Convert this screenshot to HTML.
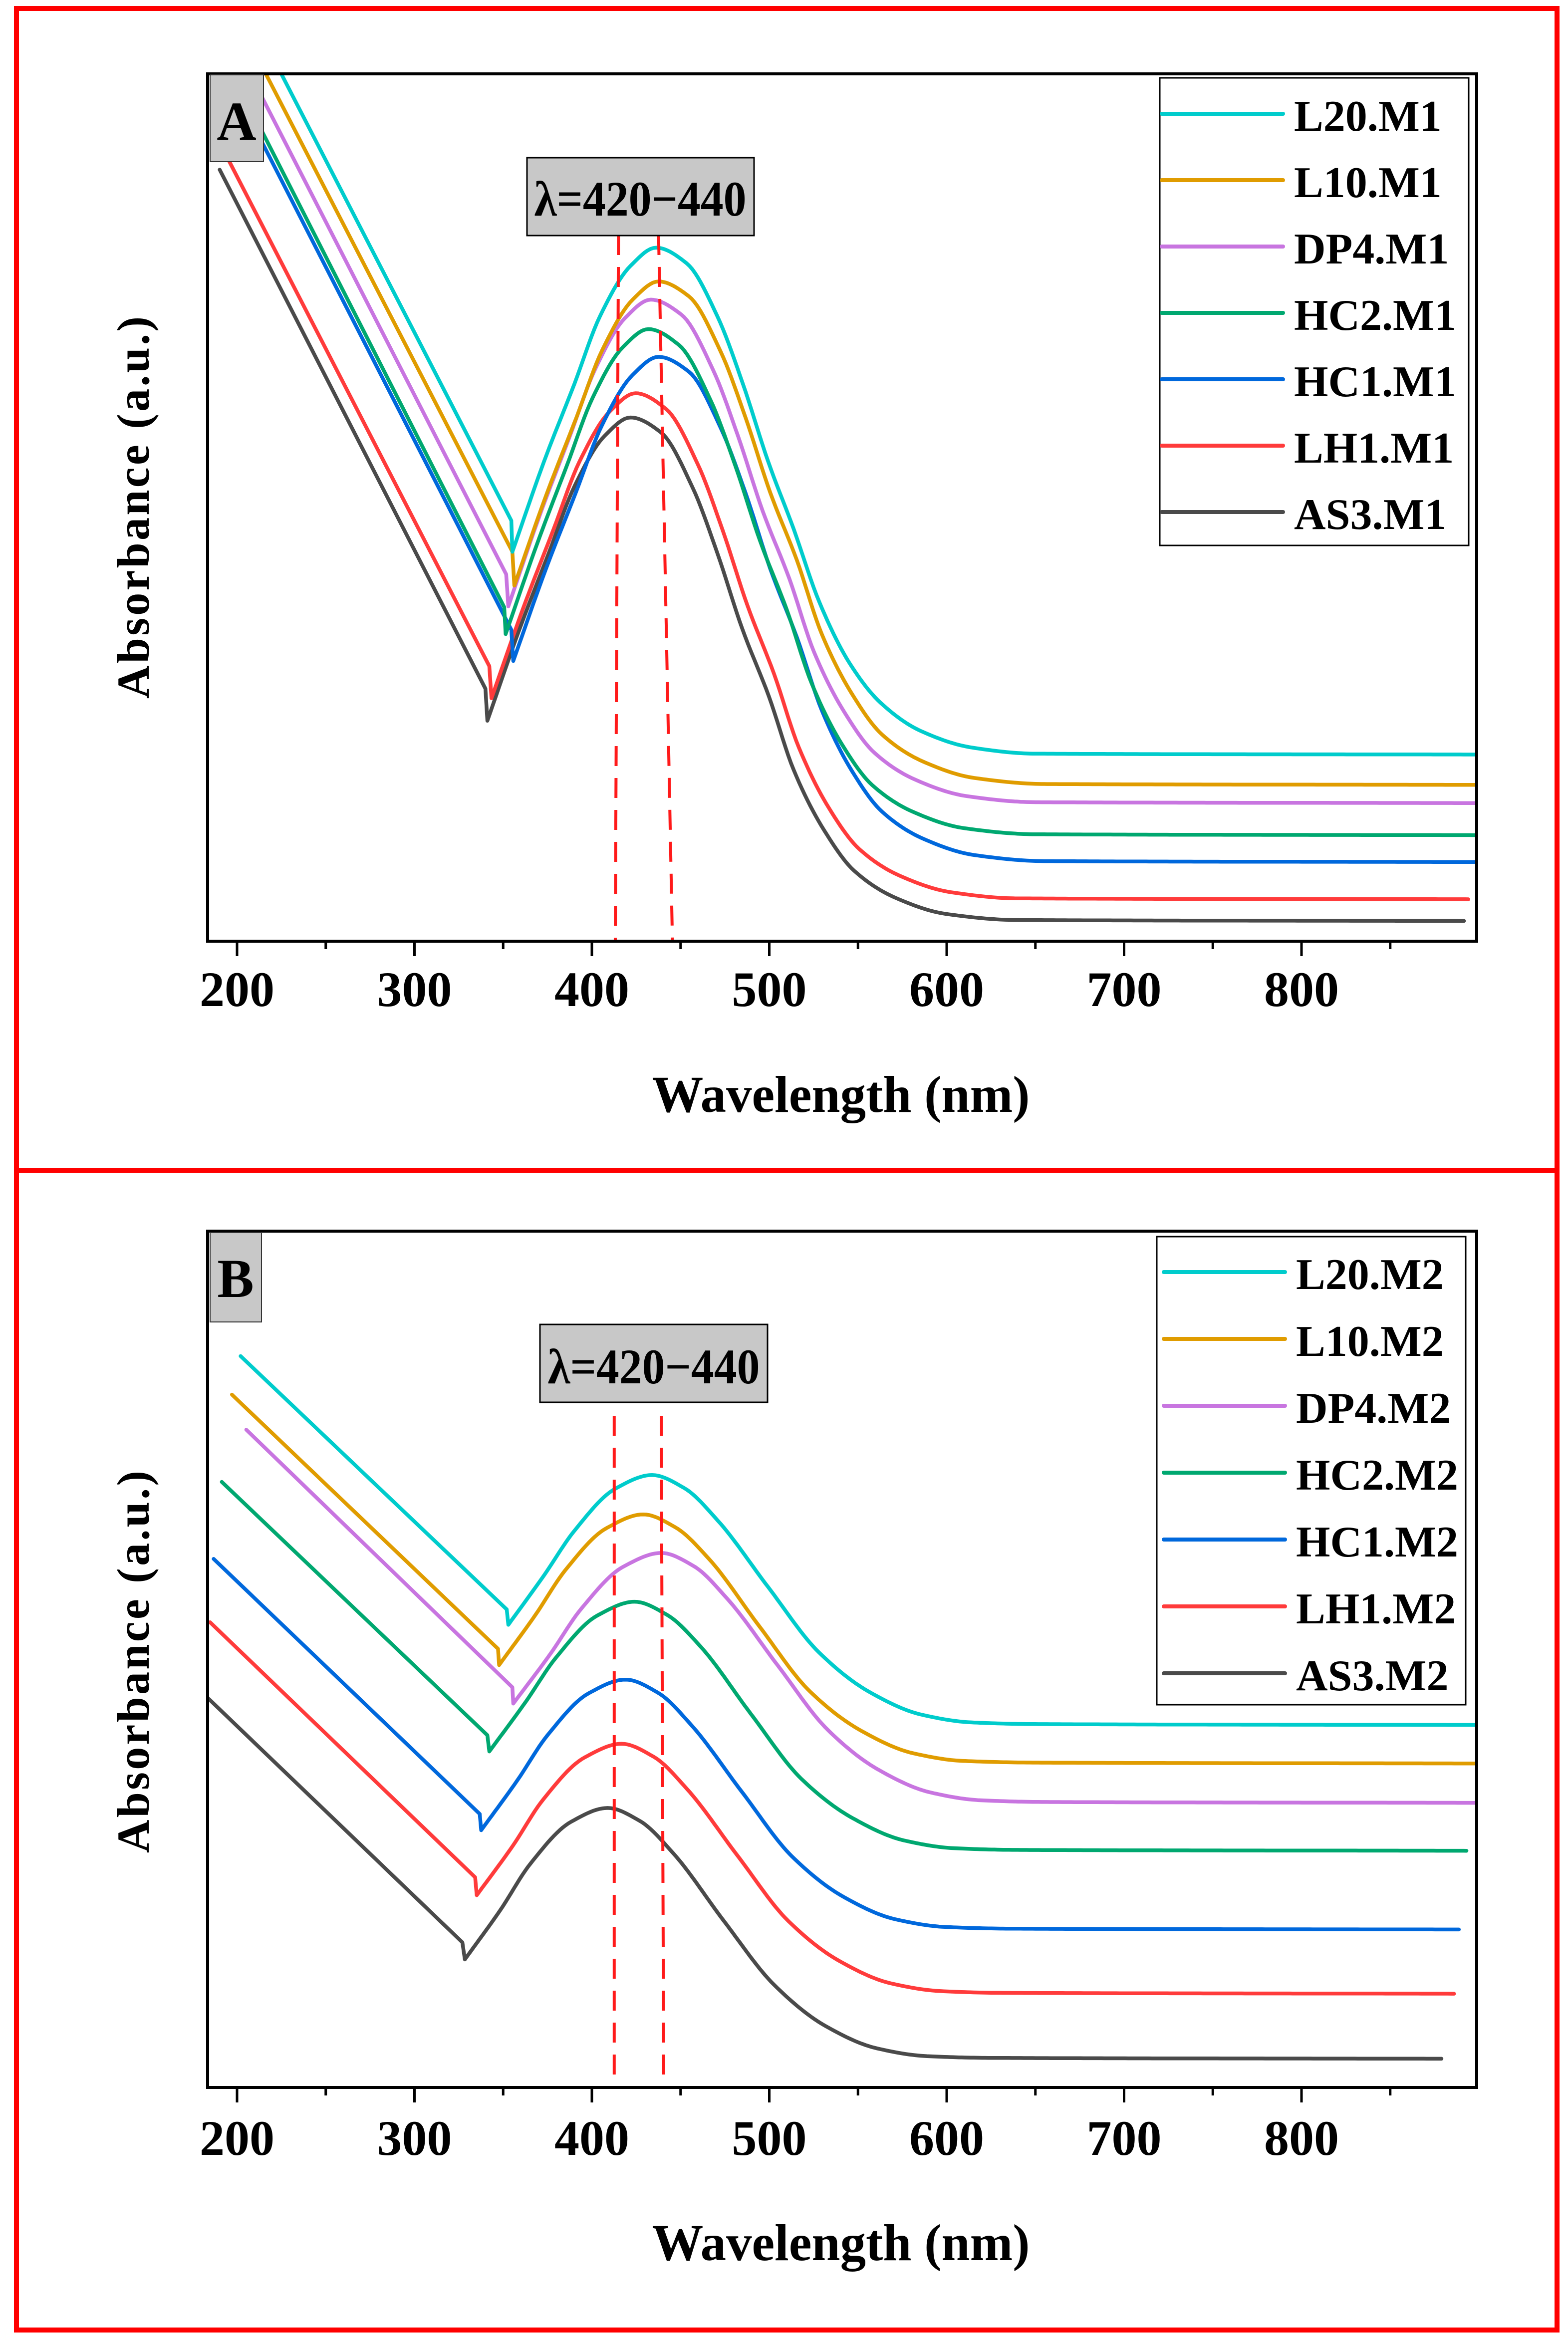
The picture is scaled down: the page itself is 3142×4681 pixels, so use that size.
<!DOCTYPE html>
<html><head><meta charset="utf-8"><style>
html,body{margin:0;padding:0;background:#fff;}
svg{display:block;}
text{font-family:"Liberation Serif",serif;font-weight:bold;fill:#000;}
</style></head><body>
<svg id="fig" width="3142" height="4681" viewBox="0 0 3142 4681" xmlns="http://www.w3.org/2000/svg">
<defs>
<clipPath id="clipA"><rect x="416" y="148" width="2543" height="1738"/></clipPath>
<clipPath id="clipB"><rect x="416" y="2467" width="2543" height="1716"/></clipPath>
</defs>
<rect x="0" y="0" width="3142" height="4681" fill="#fff"/>
<rect x="33" y="17" width="3087" height="2328" fill="none" stroke="#ff0000" stroke-width="10"/>
<rect x="33" y="2345" width="3087" height="2324" fill="none" stroke="#ff0000" stroke-width="10"/>

<g id="panelA">
<g id="curvesA" clip-path="url(#clipA)"></g>
<g id="dashA"></g>
<rect x="416" y="148" width="2543" height="1738" fill="none" stroke="#000" stroke-width="6"/>
<g id="ticksA"></g>
<text x="1685" y="2228" font-size="104" text-anchor="middle" textLength="757" lengthAdjust="spacingAndGlyphs">Wavelength (nm)</text>
<text transform="translate(298,1017) rotate(-90)" x="0" y="0" font-size="92" text-anchor="middle" textLength="766" lengthAdjust="spacing">Absorbance (a.u.)</text>
<rect x="421" y="150" width="107" height="174" fill="#c8c8c8" stroke="#333" stroke-width="2"/>
<text x="474" y="280" font-size="110" text-anchor="middle">A</text>
<rect x="1056" y="316" width="455" height="156" fill="#c8c8c8" stroke="#000" stroke-width="3"/>
<text x="1283" y="432" font-size="100" text-anchor="middle" textLength="425" lengthAdjust="spacingAndGlyphs">λ=420−440</text>
<rect x="2324" y="156" width="619" height="937" fill="#fff" stroke="#000" stroke-width="3"/>
<g id="legendA"></g>
</g>

<g id="panelB">
<g id="curvesB" clip-path="url(#clipB)"></g>
<g id="dashB"></g>
<rect x="416" y="2467" width="2543" height="1716" fill="none" stroke="#000" stroke-width="6"/>
<g id="ticksB"></g>
<text x="1685" y="4529" font-size="104" text-anchor="middle" textLength="757" lengthAdjust="spacingAndGlyphs">Wavelength (nm)</text>
<text transform="translate(298,3330) rotate(-90)" x="0" y="0" font-size="92" text-anchor="middle" textLength="766" lengthAdjust="spacing">Absorbance (a.u.)</text>
<rect x="421" y="2470" width="103" height="179" fill="#c8c8c8" stroke="#333" stroke-width="2"/>
<text x="472" y="2599" font-size="110" text-anchor="middle">B</text>
<rect x="1082" y="2654" width="456" height="156" fill="#c8c8c8" stroke="#000" stroke-width="3"/>
<text x="1310" y="2772" font-size="100" text-anchor="middle" textLength="425" lengthAdjust="spacingAndGlyphs">λ=420−440</text>
<rect x="2318" y="2478" width="619" height="938" fill="#fff" stroke="#000" stroke-width="3"/>
<g id="legendB"></g>
</g>
</svg>
<script>
// ---- data ----
const xTicks = [200, 300, 400, 500, 600, 700, 800];
const xMinorTicks = [250, 350, 450, 550, 650, 750, 850];
const xTickLabels = ["200", "300", "400", "500", "600", "700", "800"];

const namesA = ["L20.M1", "L10.M1", "DP4.M1", "HC2.M1", "HC1.M1", "LH1.M1", "AS3.M1"];
const namesB = ["L20.M2", "L10.M2", "DP4.M2", "HC2.M2", "HC1.M2", "LH1.M2", "AS3.M2"];
const colors = ["#00CCCC", "#E09C00", "#C875E0", "#00A870", "#0068DC", "#FF3B3B", "#4A4A4A"];

const wlA_L20 = [212,354.6,355.2,373,390.2,404.6,421.8,436.2,453.4,470.7,485.1,499.4,513.8,528.2,545.4,562.6,585.6,614.4,650,898];
const absA_L20 = [1.052,.485,.449,.553,.643,.721,.779,.800,.782,.721,.643,.553,.475,.391,.320,.275,.242,.223,.216,.215];
const wlA_L10 = [203,355.2,356.3,374.2,391.3,405.9,423,437.6,454.6,472.6,486.6,500.6,515.6,529.6,546.6,563.6,586.6,615.6,655,898];
const absA_L10 = [1.053,.449,.410,.514,.604,.682,.740,.761,.744,.680,.604,.517,.439,.354,.285,.238,.207,.188,.181,.180];
const wlA_DP4 = [200,351.7,352.9,370.6,387.5,401.9,418.8,433.3,450.3,468.3,482.3,496.3,511.3,525.3,542.3,559.3,582.3,611.3,650,898];
const absA_DP4 = [1.03,.423,.386,.491,.582,.660,.719,.740,.723,.659,.583,.496,.418,.333,.264,.217,.186,.167,.160,.159];
const wlA_HC2 = [197,350.6,351.4,369.1,386.0,400.5,417.4,431.9,448.9,466.9,480.9,494.9,509.9,523.9,540.9,557.9,580.9,609.9,650,898];
const absA_HC2 = [1.003,.385,.354,.458,.549,.627,.685,.706,.688,.624,.548,.461,.382,.297,.227,.180,.149,.130,.123,.122];
const wlA_HC1 = [196,354.6,355.7,373.7,390.9,405.7,422.9,437.6,454.6,472.6,486.6,500.6,515.6,529.6,546.6,563.6,586.6,615.6,655,898];
const absA_HC1 = [.994,.359,.323,.427,.517,.595,.653,.674,.657,.592,.517,.429,.350,.266,.196,.149,.118,.099,.092,.091];
const wlA_LH1 = [195.5,342.2,343.4,361.3,378.4,393,410.1,424.7,441.7,459.7,473.7,487.7,502.7,516.7,533.7,550.7,573.7,602.7,640,894];
const absA_LH1 = [.900,.317,.280,.384,.475,.553,.611,.632,.614,.550,.474,.387,.308,.223,.153,.106,.075,.056,.049,.048];
const wlA_AS3 = [190.2,340,341.1,358.9,375.8,390.3,407.3,421.8,438.8,456.8,470.8,484.8,499.8,513.8,530.8,547.8,570.8,599.8,640,891.6];
const absA_AS3 = [.890,.291,.254,.358,.448,.525,.583,.604,.587,.523,.447,.360,.282,.197,.128,.081,.050,.031,.024,.023];

const wlB_L20 = [202,352,352.9,373.1,390.2,413.2,433.9,451.9,470.9,499.4,527.9,556.9,585.9,613.9,650,898];
const absB_L20 = [.854,.558,.540,.598,.650,.699,.715,.700,.662,.584,.508,.461,.435,.426,.424,.423];
const wlB_L10 = [197.1,347.1,347.7,368.0,385.1,408.3,429,447,466,494.5,523,552,581,609,650,898];
const absB_L10 = [.809,.512,.493,.551,.604,.653,.669,.654,.617,.538,.462,.416,.390,.381,.379,.378];
const wlB_DP4 = [205.2,355.2,355.7,376.6,394.1,417.8,439.1,457.1,476.1,504.6,533.1,562.1,591.1,619.1,655,898];
const absB_DP4 = [.768,.467,.448,.506,.559,.608,.624,.609,.571,.493,.417,.370,.344,.335,.333,.332];
const wlB_HC2 = [191.4,341.1,342.2,362.7,379.9,403.2,424.1,442.1,461.1,489.6,518.1,547.1,576.1,604.1,640,893];
const absB_HC2 = [.707,.411,.392,.450,.502,.551,.567,.552,.515,.436,.360,.314,.288,.279,.277,.276];
const wlB_HC1 = [186.8,336.8,337.6,357.9,375.0,398.2,419,437,456,484.5,513,542,571,599,635,888.7];
const absB_HC1 = [.617,.319,.300,.358,.411,.460,.476,.461,.423,.345,.269,.222,.196,.187,.185,.184];
const wlB_LH1 = [184.8,334.2,335.1,355.5,372.6,395.9,416.7,434.7,453.7,482.2,510.7,539.7,568.7,596.7,630,886];
const absB_LH1 = [.543,.245,.224,.282,.336,.385,.401,.386,.348,.270,.194,.147,.121,.112,.110,.109];
const wlB_AS3 = [183.3,327,328.4,348.5,365.4,388.4,408.9,426.9,445.9,474.4,502.9,531.9,560.9,588.9,625,878.9];
const absB_AS3 = [.455,.169,.149,.207,.261,.310,.326,.311,.273,.194,.119,.071,.045,.036,.034,.033];

const dashWlA_top = [415, 437.6];
const dashWlA_bottom = [413.2, 445.4];
const dashWlB_top = [412.6, 439.1];
const dashWlB_bottom = [412.6, 440.5];

const seriesA = [[wlA_L20,absA_L20],[wlA_L10,absA_L10],[wlA_DP4,absA_DP4],[wlA_HC2,absA_HC2],[wlA_HC1,absA_HC1],[wlA_LH1,absA_LH1],[wlA_AS3,absA_AS3]];
const seriesB = [[wlB_L20,absB_L20],[wlB_L10,absB_L10],[wlB_DP4,absB_DP4],[wlB_HC2,absB_HC2],[wlB_HC1,absB_HC1],[wlB_LH1,absB_LH1],[wlB_AS3,absB_AS3]];

// ---- axes ----
const NS = "http://www.w3.org/2000/svg";
function xScale(w){ return 475 + (w - 200) * 3.555; }
function yScaleA(v){ return 1885.3 - v * 1736.3; }
function yScaleB(v){ return 4182 - v * 1715; }

function mk(tag, attrs, parent){
  const e = document.createElementNS(NS, tag);
  for (const k in attrs) e.setAttribute(k, attrs[k]);
  parent.appendChild(e);
  return e;
}

function monotoneSamples(xs, ys){
  const n = xs.length;
  const d = [], m = new Array(n);
  for (let i = 0; i < n - 1; i++) d.push((ys[i+1]-ys[i])/(xs[i+1]-xs[i]));
  m[0] = d[0]; m[n-1] = d[n-2];
  for (let i = 1; i < n - 1; i++){
    if (d[i-1] * d[i] <= 0) m[i] = 0;
    else { const w1 = 2*(xs[i+1]-xs[i]) + (xs[i]-xs[i-1]), w2 = (xs[i+1]-xs[i]) + 2*(xs[i]-xs[i-1]); m[i] = (w1 + w2) / (w1/d[i-1] + w2/d[i]); }
  }
  const out = [];
  for (let i = 0; i < n - 1; i++){
    const h = xs[i+1] - xs[i];
    const steps = Math.max(2, Math.ceil(h / 6));
    for (let s = 0; s < steps; s++){
      const t = s / steps, t2 = t*t, t3 = t2*t;
      const y = (2*t3-3*t2+1)*ys[i] + (t3-2*t2+t)*h*m[i] + (-2*t3+3*t2)*ys[i+1] + (t3-t2)*h*m[i+1];
      out.push([xs[i] + t*h, y]);
    }
  }
  out.push([xs[n-1], ys[n-1]]);
  return out;
}

function curvePath(wl, ab, ys){
  const P = wl.map((w,i)=>[xScale(w), ys(ab[i])]);
  let d = "M" + P[0][0].toFixed(1) + "," + P[0][1].toFixed(1);
  d += " L" + P[1][0].toFixed(1) + "," + P[1][1].toFixed(1);
  const rest = P.slice(2);
  const S = monotoneSamples(rest.map(p=>p[0]), rest.map(p=>p[1]));
  S.forEach(p => { d += " L" + p[0].toFixed(1) + "," + p[1].toFixed(1); });
  return d;
}

function drawPanel(series, names, ys, curvesId, ticksId, legendId, dashId, dTop, dBot, dashY0, frameBottom, labelBase, legX, legY0, legStep){
  const cg = document.getElementById(curvesId);
  for (let i = series.length - 1; i >= 0; i--){
    const p = mk("path", {d: curvePath(series[i][0], series[i][1], ys), fill:"none", stroke: colors[i], "stroke-width": 7.5, "stroke-linejoin":"round", "stroke-linecap":"round"}, cg);
    
    
  }
  const tg = document.getElementById(ticksId);
  xTicks.forEach((t, i) => {
    const l = mk("line", {x1: xScale(t), x2: xScale(t), y1: frameBottom, y2: frameBottom + 30, stroke:"#000", "stroke-width": 5}, tg);
    
    
    const tx = mk("text", {x: xScale(t), y: labelBase, "font-size": 100, "text-anchor":"middle"}, tg);
    tx.textContent = xTickLabels[i];
    
    
  });
  xMinorTicks.forEach(t => {
    const l = mk("line", {x1: xScale(t), x2: xScale(t), y1: frameBottom, y2: frameBottom + 16, stroke:"#000", "stroke-width": 5}, tg);
    
    
  });
  const dg = document.getElementById(dashId);
  for (let k = 0; k < 2; k++){
    const l = mk("line", {x1: xScale(dTop[k]), y1: dashY0, x2: xScale(dBot[k]), y2: frameBottom, stroke:"#FF1A1A", "stroke-width": 6, "stroke-dasharray":"40 24"}, dg);
    
    
  }
  const lg = document.getElementById(legendId);
  names.forEach((n, i) => {
    const y = legY0 + i * legStep;
    const g = mk("g", {}, lg);
    
    
    const l = mk("line", {x1: legX, x2: legX + 243, y1: y, y2: y, stroke: colors[i], "stroke-width": 8, "stroke-linecap":"round"}, g);
    
    
    const t = mk("text", {x: legX + 265, y: y + 34, "font-size": 88}, g);
    t.textContent = n;
    
    
  });
}

drawPanel(seriesA, namesA, yScaleA, "curvesA", "ticksA", "legendA", "dashA", dashWlA_top, dashWlA_bottom, 471, 1886, 2016, 2328, 228, 133);
drawPanel(seriesB, namesB, yScaleB, "curvesB", "ticksB", "legendB", "dashB", dashWlB_top, dashWlB_bottom, 2837, 4183, 4318, 2332, 2549, 134);
</script>
</body></html>
